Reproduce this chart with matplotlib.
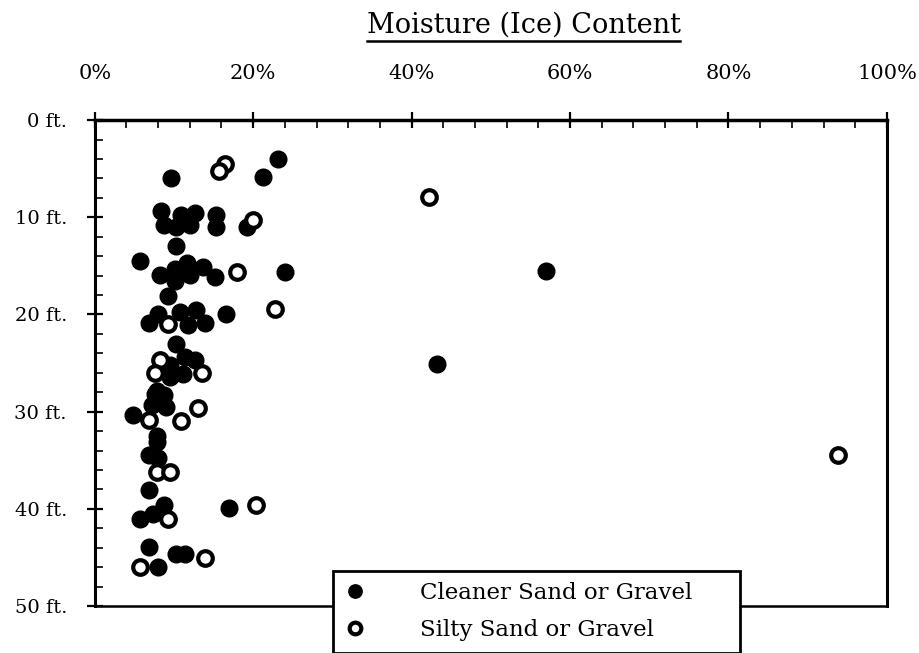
#moisture (ice) content vs depth scatter, redrawn from a scanned figure

import numpy as np
import matplotlib.pyplot as plt
from matplotlib.ticker import MultipleLocator, FuncFormatter
from matplotlib.lines import Line2D

# cleaner sand or gravel (filled dots): moisture %, depth ft
clean_x = [23.1, 9.6, 21.3,
           8.4, 8.8, 10.3, 10.9, 12.0, 12.6, 15.3, 15.3, 19.2,
           10.3, 5.7, 8.2, 10.1, 10.1, 11.6, 12.0, 13.7, 15.2, 24.0, 57.0,
           9.3, 6.9, 8.0, 10.7, 11.8, 12.8, 13.9, 16.6,
           10.3, 9.5, 11.4, 12.6, 11.1, 9.5, 43.2,
           7.8, 7.6, 8.8, 7.2, 9.0, 4.8,
           7.8, 7.8, 6.9, 8.0, 6.9, 8.8, 7.4, 5.7, 17.0,
           6.9, 10.3, 11.4, 8.0]
clean_d = [4.0, 6.0, 5.9,
           9.3, 10.8, 11.0, 9.8, 10.8, 9.6, 9.8, 11.0, 11.0,
           13.0, 14.5, 15.9, 15.3, 16.6, 14.7, 15.9, 15.1, 16.1, 15.6, 15.5,
           18.1, 20.9, 19.9, 19.7, 21.1, 19.5, 20.9, 20.0,
           23.0, 25.2, 24.4, 24.7, 26.1, 26.4, 25.1,
           27.9, 28.2, 28.3, 29.3, 29.5, 30.3,
           32.5, 33.1, 34.5, 34.8, 38.1, 39.6, 40.5, 41.0, 39.9,
           43.9, 44.6, 44.6, 46.0]

# silty sand or gravel (open dots)
silty_x = [16.5, 15.7, 20.0, 42.2, 17.9, 22.7, 9.3, 8.2, 7.6, 13.5,
           6.9, 10.9, 13.0, 7.8, 9.5, 9.3, 20.4, 13.9, 5.7, 93.8]
silty_d = [4.5, 5.2, 10.3, 7.9, 15.6, 19.4, 21.0, 24.7, 26.0, 26.0,
           30.9, 31.0, 29.6, 36.2, 36.2, 41.0, 39.6, 45.1, 46.0, 34.5]

plt.rcParams['font.family'] = 'DejaVu Serif'

fig = plt.figure(figsize=(9.2, 6.53), dpi=100)
ax = fig.add_axes([0.103, 0.072, 0.861, 0.744])

ax.plot(clean_x, clean_d, 'o', color='black', ms=12, mew=1,
        label='Cleaner Sand or Gravel', zorder=3)
ax.plot(silty_x, silty_d, 'o', mfc='white', mec='black', ms=10.5, mew=3,
        label='Silty Sand or Gravel', zorder=4)

ax.set_xlim(0, 100)
ax.set_ylim(50, 0)
ax.xaxis.tick_top()
ax.xaxis.set_major_locator(MultipleLocator(20))
ax.xaxis.set_minor_locator(MultipleLocator(4))
ax.yaxis.set_major_locator(MultipleLocator(10))
ax.yaxis.set_minor_locator(MultipleLocator(2))
ax.xaxis.set_major_formatter(FuncFormatter(lambda v, p: '%d%%' % v))
ax.yaxis.set_major_formatter(FuncFormatter(lambda v, p: '%d ft.' % v))

ax.tick_params(which='major', direction='inout', length=12, width=1.6,
               labelsize=14)
ax.tick_params(which='minor', direction='in', length=6, width=1.2)
ax.tick_params(axis='x', which='both', top=True, bottom=False, pad=21,
               labelsize=15)
ax.tick_params(axis='y', which='both', left=True, right=False, pad=14)

ax.spines['top'].set_linewidth(2.5)
ax.spines['left'].set_linewidth(2.2)
ax.spines['right'].set_linewidth(2.2)
ax.spines['bottom'].set_linewidth(1.8)

leg = ax.legend(loc='upper left', mode='expand',
                bbox_to_anchor=(0.362, 0.0, 0.4424, 0.1256),
                bbox_transform=fig.transFigure, borderaxespad=0,
                fontsize=16.5, frameon=True, fancybox=False, framealpha=1,
                edgecolor='black', handlelength=0.9, handletextpad=2.4,
                borderpad=0.5, labelspacing=0.65, markerscale=0.8)
leg.get_frame().set_linewidth(2)

t = fig.text(0.569, 0.962, 'Moisture (Ice) Content', ha='center',
             va='center', fontsize=19.5)

# underline the title
fig.canvas.draw()
bb = t.get_window_extent().transformed(fig.transFigure.inverted())
fig.add_artist(Line2D([bb.x0, bb.x1], [0.937, 0.937], color='black', lw=1.8))

fig.savefig('out.png', dpi=100)
